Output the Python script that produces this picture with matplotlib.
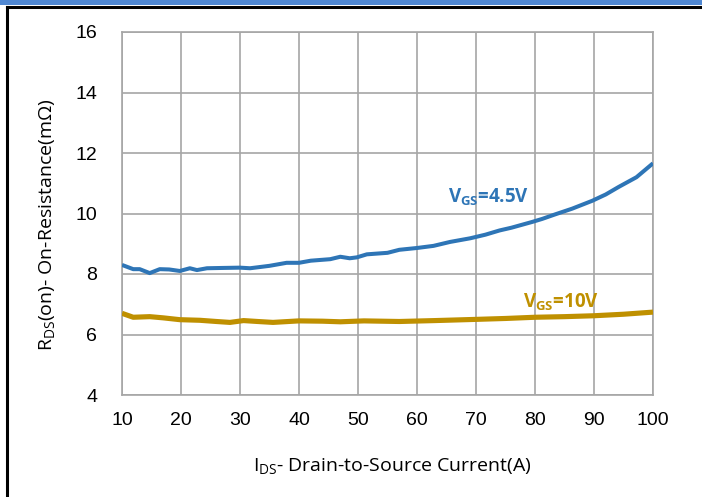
import matplotlib
matplotlib.use('Agg')
import matplotlib.pyplot as plt
from matplotlib.patches import Rectangle
from matplotlib.lines import Line2D

plt.rcParams['mathtext.default'] = 'regular'

# on-resistance vs drain current, two gate drive levels
ids_45 = [10, 11.9, 13, 14.7, 16.4, 18, 19.8, 21.5, 22.7, 24.4, 27, 30, 31.7, 35,
          37.9, 40, 42, 45.3, 47, 48.6, 49.8, 51.5, 55, 57, 60, 62.8, 65.6, 69,
          71.6, 74, 76, 79.5, 81.2, 83.4, 86.3, 89.7, 92, 94.2, 97.2, 100]
rds_45 = [8.30, 8.16, 8.16, 8.03, 8.16, 8.15, 8.10, 8.19, 8.13, 8.19, 8.20, 8.21,
          8.19, 8.27, 8.37, 8.37, 8.44, 8.49, 8.57, 8.52, 8.55, 8.65, 8.70, 8.80,
          8.86, 8.93, 9.06, 9.18, 9.30, 9.44, 9.53, 9.72, 9.82, 9.97, 10.16,
          10.42, 10.63, 10.88, 11.20, 11.66]

ids_10 = [10, 11.9, 14.7, 17, 19.8, 23.2, 26, 28.3, 30.6, 33, 35.6, 40, 44, 47,
          51, 57, 63, 70, 75, 80, 85, 90, 95, 100]
rds_10 = [6.70, 6.57, 6.59, 6.55, 6.49, 6.47, 6.43, 6.40, 6.46, 6.43, 6.40, 6.45,
          6.44, 6.42, 6.45, 6.43, 6.46, 6.50, 6.53, 6.57, 6.59, 6.62, 6.67, 6.74]

x_ticks = [10, 20, 30, 40, 50, 60, 70, 80, 90, 100]
y_ticks = [4, 6, 8, 10, 12, 14, 16]

BLUE = '#2E75B6'
GOLD = '#BF9000'
GRID = '#A6A6A6'

fig = plt.figure(figsize=(7.02, 4.97), dpi=100)
fig.patch.set_facecolor('white')

# header bar and black frame
fig.patches.append(Rectangle((0, 1 - 5 / 497), 1, 5 / 497, transform=fig.transFigure,
                             facecolor='#4F87D2', edgecolor='none', zorder=0))
fig.lines.append(Line2D([7 / 702, 7 / 702], [0, 1 - 7 / 497], transform=fig.transFigure,
                        color='black', linewidth=2.2))
fig.lines.append(Line2D([7 / 702, 1], [1 - 7 / 497, 1 - 7 / 497], transform=fig.transFigure,
                        color='black', linewidth=2.2))

ax = fig.add_axes([122 / 702, 1 - 395 / 497, 531 / 702, 363 / 497])
ax.plot(ids_45, rds_45, color=BLUE, linewidth=2.9, solid_capstyle='butt', zorder=3)
ax.plot(ids_10, rds_10, color=GOLD, linewidth=3.7, solid_capstyle='butt', zorder=3)

ax.set_xlim(10, 100)
ax.set_ylim(4, 16)
ax.set_xticks(x_ticks)
ax.set_yticks(y_ticks)
ax.grid(True, color=GRID, linewidth=1.2)
ax.set_axisbelow(True)
for s in ax.spines.values():
    s.set_color(GRID)
    s.set_linewidth(1.2)
ax.tick_params(length=0, labelsize=14, pad=0)
ax.tick_params(axis='y', pad=18)
ax.tick_params(axis='x', pad=12)
for lab in ax.get_xticklabels() + ax.get_yticklabels():
    lab.set_family('Liberation Sans')

ax.set_xlabel('I$_{DS}$- Drain-to-Source Current(A)', family='Open Sans', fontsize=14)
ax.xaxis.label.set_verticalalignment('center')
ax.xaxis.set_label_coords(0.51, -0.196)
ax.set_ylabel('R$_{DS}$(on)- On-Resistance(m\u03a9)', family='Open Sans', fontsize=14)
ax.yaxis.label.set_verticalalignment('center')
ax.yaxis.set_label_coords(-0.141, 0.47)

ax.text(65.3, 10.55, 'V$_{GS}$=4.5V', color=BLUE, family='Open Sans', fontweight='bold',
        fontsize=13.5, ha='left', va='center')
ax.text(78.0, 7.05, 'V$_{GS}$=10V', color=GOLD, family='Open Sans', fontweight='bold',
        fontsize=13.5, ha='left', va='center')

fig.savefig('out.png', dpi=100)
